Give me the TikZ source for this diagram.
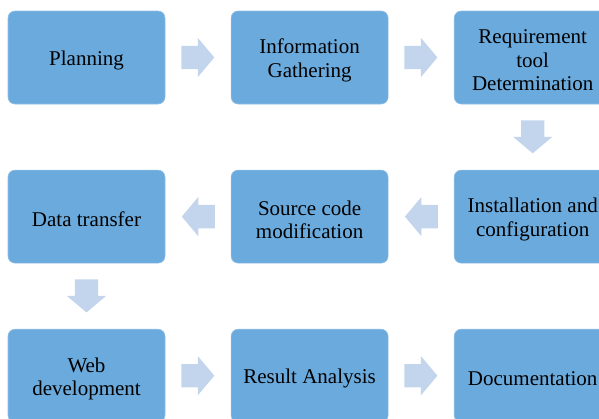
\documentclass[tikz,border=0pt]{standalone}
\usepackage{fontspec}
\setmainfont{Liberation Serif}
\usetikzlibrary{positioning, shapes.arrows, calc}
\definecolor{boxblue}{RGB}{107,170,221}
\definecolor{arrowblue}{RGB}{194,213,236}
\tikzset{
  stage/.style={draw=boxblue!75!white, line width=0.6pt, fill=boxblue, rounded corners=7pt,
    minimum width=157pt, minimum height=93pt, inner sep=0pt,
    label={[stagetext]center:{#1}}},
  stagetext/.style={align=center, yshift=-3pt, font=\fontsize{21}{23.5}\selectfont},
  flow/.style={single arrow, fill=arrowblue, draw=none, minimum height=33pt, anchor=tip,
    inner xsep=0pt, inner ysep=11.5pt, single arrow head extend=8pt, single arrow tip angle=100}
}

\begin{document}
\begin{tikzpicture}[x=1pt, y=1pt, node distance=65.5pt]
    \useasboundingbox (0,0) rectangle (599,-418);
    % first row, left to right
    \node[stage={Planning}] (plan) at (86.5,-57.5) {};
    \node[stage={Information\\Gathering}, right=of plan] (info) {};
    \node[stage={Requirement\\tool\\Determination}, right=of info] (req) {};
    % second row, right to left
    \node[stage={Installation and\\configuration}, below=of req] (inst) {};
    \node[stage={Source code\\modification}, left=of inst] (src) {};
    \node[stage={Data transfer}, left=of src] (data) {};
    % third row, left to right
    \node[stage={Web\\development}, below=of data] (web) {};
    \node[stage={Result Analysis}, right=of web] (res) {};
    \node[stage={Documentation}, right=of res] (doc) {};
    % block arrows, tip 16.5pt past the middle of the gap
    \foreach \a/\b/\r in {plan/info/0, info/req/0, req/inst/-90, inst/src/180,
        src/data/180, data/web/-90, web/res/0, res/doc/0}
      \node[flow, rotate=\r] (\a-\b) at ($(\a)!0.5!(\b)!16.5pt!(\b)$) {};
\end{tikzpicture}
\end{document}
